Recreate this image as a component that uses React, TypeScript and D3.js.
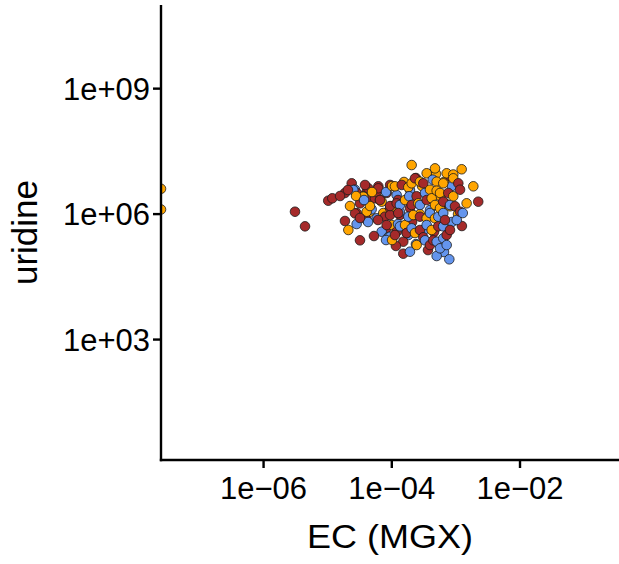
import React from "react";
import * as d3 from "d3";

// ---- data ----
// group codes: R = dark red, O = orange, B = blue
const groupNames = ["R", "O", "B"];
const groupColors = ["#A52A2A", "#FFA500", "#6495ED"];

const ecMGX: number[] = [
  0, 0,
  3.09e-6, 4.43e-6, 1.02e-5, 1.18e-5, 1.86e-5, 2.37e-5, 3.19e-5, 1.86e-5, 2.1e-5,
  2.67e-5, 2.83e-5, 2.83e-5, 2.83e-5, 4.06e-5, 3.6e-5, 4.57e-5, 4.57e-5, 4.85e-5, 4.06e-5,
  5.47e-5, 5.81e-5, 5.81e-5, 6.17e-5, 6.55e-5, 6.95e-5, 7.36e-5, 7.83e-5, 8.32e-5, 8.32e-5,
  6.95e-5, 8.81e-5, 9.4e-5, 9.4e-5, 9.95e-5, 9.95e-5,
  2.51e-5, 4.3e-5, 3.59e-5, 6.15e-5, 3.19e-5, 2.67e-5, 4.06e-5, 1.0e-4, 1.19e-4, 9.4e-5,
  1.34e-4, 8.32e-5, 9.4e-5, 1.19e-4, 1.61e-4, 1.81e-4, 1.51e-4,
  2.07e-5, 2.77e-5, 3.82e-5, 4.91e-5, 6.55e-5, 8.13e-5, 1.01e-4, 1.25e-4, 1.55e-4, 1.92e-4,
  2.38e-4, 2.96e-4, 3.67e-4, 6.52e-4, 8.69e-4, 5.65e-4, 7.0e-4, 3.94e-4, 2.75e-4, 1.92e-4,
  1.34e-4, 9.4e-5, 4.57e-5, 6.1e-5, 4.26e-5, 3.19e-5, 1.25e-4, 2.07e-4, 3.18e-4, 4.55e-4,
  8.69e-4, 1.08e-3, 1.24e-3, 2.38e-4, 1.16e-4, 8.13e-5, 3.67e-4, 6.52e-4, 1.01e-4, 5.27e-5,
  4.9e-4, 8.09e-4, 3.69e-5, 2.23e-5, 1.56e-5,
  1.12e-4, 1.12e-4, 1.19e-4, 1.34e-4, 1.34e-4, 1.43e-4, 1.51e-4, 1.61e-4, 1.61e-4, 1.26e-4,
  1.71e-4, 1.71e-4, 1.81e-4, 1.81e-4, 1.87e-4, 1.92e-4, 2.04e-4, 2.04e-4, 2.04e-4, 2.04e-4,
  2.16e-4, 2.3e-4, 2.3e-4, 2.44e-4, 2.44e-4, 2.59e-4, 2.75e-4, 2.75e-4, 2.75e-4, 2.75e-4,
  3.1e-4, 3.1e-4, 3.3e-4, 3.3e-4, 3.5e-4, 3.5e-4, 3.5e-4, 3.5e-4, 3.94e-4, 3.94e-4,
  3.94e-4, 4.19e-4, 4.19e-4, 4.35e-4, 4.44e-4, 4.72e-4, 4.72e-4, 4.72e-4, 5.01e-4, 5.01e-4,
  5.01e-4, 5.01e-4, 5.31e-4, 5.31e-4, 5.65e-4, 5.65e-4, 5.65e-4, 6.35e-4, 6.35e-4, 6.35e-4,
  6.35e-4, 6.35e-4, 6.76e-4, 7.18e-4, 7.18e-4, 7.18e-4, 7.6e-4, 7.89e-4, 8.09e-4, 8.09e-4,
  8.09e-4, 9.1e-4, 9.1e-4, 9.1e-4, 9.68e-4, 1.03e-3, 1.09e-3, 1.16e-3, 1.16e-3, 1.23e-3,
  1.28e-3, 1.47e-3, 1.87e-3, 2.23e-3,
];

const uridine: number[] = [
  4.03e6, 1.29e6,
  1.14e6, 5.1e5, 2.09e6, 2.39e6, 3.2e6, 5.45e6, 2.36e5, 6.84e5, 4.17e5,
  3.83e6, 3.2e6, 1.06e6, 5.79e5, 3.44e6, 2.67e6, 2.17e6, 1.14e6, 1.3e6, 7.23e5,
  2.39e6, 3.44e6, 7.94e5, 4.62e6, 2.17e6, 1.98e6, 1.06e6, 8.67e5, 3.2e6, 4.57e5,
  3.79e5, 2.79e5, 4.97e6, 1.38e6, 1.54e6, 5.48e5,
  3.77e6, 4.14e6, 2.61e6, 4.14e6, 1.81e6, 1.04e6, 1.14e6, 1.5e6, 2.86e6, 9.5e5,
  9.5e5, 5.48e5, 2.88e5, 3.79e5, 5.0e5, 3.16e5, 2.19e5,
  3.77e6, 2.71e6, 4.97e6, 3.37e6, 2.17e6, 3.37e6, 4.7e6, 2.17e6, 5.86e6, 3.77e6,
  7.29e6, 4.7e6, 3.03e6, 5.86e6, 4.7e6, 2.71e6, 1.75e6, 1.25e6, 1.0e6, 1.4e6,
  1.12e6, 1.56e6, 1.56e6, 7.23e5, 6.47e5, 8.07e5, 5.79e5, 6.47e5, 4.17e5, 3.73e5,
  6.47e5, 1.0e6, 5.19e5, 1.92e5, 1.73e5, 2.4e5, 1.38e5, 1.24e5, 2.4e5, 2.99e5,
  9.1e6, 8.15e6, 2.17e6, 1.56e6, 2.71e6,
  3.16e5, 4.62e6, 1.81e6, 1.65e6, 5.1e5, 4.97e6, 1.13e5, 2.17e6, 5.48e5, 1.06e6,
  3.53e5, 3.53e5, 4.38e6, 8.67e5, 2.67e6, 1.26e5, 1.49e7, 5.45e6, 1.65e6, 4.57e5,
  9.5e5, 7.18e6, 3.53e5, 2.67e6, 1.82e5, 1.81e6, 5.96e6, 1.65e6, 8.67e5, 4.17e5,
  5.45e6, 2.79e5, 3.2e6, 2.36e5, 9.46e6, 2.17e6, 7.94e5, 5.48e5, 3.83e6, 1.06e6,
  1.82e5, 2.39e6, 4.17e5, 6.65e6, 2.36e5, 1.24e7, 1.65e6, 7.94e5, 5.96e6, 3.63e6,
  2.19e5, 9.95e4, 5.1e5, 8.67e5, 3.2e6, 1.38e6, 1.52e5, 5.45e6, 1.98e6, 1.06e6,
  5.1e5, 2.64e5, 7.23e5, 9.46e6, 3.16e5, 1.82e5, 3.2e6, 8.3e4, 1.54e6, 4.17e5,
  1.65e6, 8.85e6, 2.67e6, 7.18e6, 1.54e6, 7.23e5, 5.45e6, 3.83e6, 1.14e6, 1.18e7,
  1.06e6, 1.81e6, 4.62e6, 1.98e6,
];

const group: string[] = [
  "O", "O",
  "R", "R", "R", "R", "R", "R", "R", "R", "O",
  "B", "R", "R", "B", "R", "O", "R", "O", "B", "R",
  "R", "R", "B", "R", "O", "O", "O", "R", "R", "R",
  "B", "B", "R", "R", "O", "O",
  "B", "R", "O", "R", "R", "R", "O", "O", "B", "R",
  "R", "R", "B", "R", "R", "B", "R",
  "R", "O", "R", "O", "R", "B", "O", "R", "O", "B",
  "R", "O", "R", "O", "B", "O", "R", "B", "O", "R",
  "B", "R", "O", "R", "B", "R", "B", "R", "B", "R",
  "B", "O", "R", "B", "R", "B", "R", "B", "O", "R",
  "O", "R", "B", "O", "R",
  "R", "O", "R", "B", "B", "R", "R", "O", "O", "R",
  "B", "R", "O", "B", "B", "B", "O", "O", "R", "B",
  "O", "R", "O", "R", "O", "O", "O", "B", "R", "R",
  "R", "R", "B", "B", "O", "R", "O", "B", "O", "B",
  "R", "O", "O", "B", "R", "O", "O", "O", "O", "O",
  "B", "B", "R", "B", "O", "O", "B", "O", "R", "B",
  "B", "B", "R", "O", "R", "B", "R", "B", "O", "R",
  "B", "O", "O", "O", "R", "B", "R", "R", "R", "O",
  "B", "O", "O", "R",
];

const xTickValues = [1e-6, 1e-4, 1e-2];
const xTickLabels = ["1e\u221206", "1e\u221204", "1e\u221202"];
const yTickValues = [1e3, 1e6, 1e9];
const yTickLabels = ["1e+03", "1e+06", "1e+09"];
const xTitle = "EC (MGX)";
const yTitle = "uridine";

// ---- layout ----
const W = 619;
const H = 564;
const panel = { left: 161, right: 619, top: 5, bottom: 460 };
const xDomain = [Math.pow(10, -7.6), Math.pow(10, -0.456)];
const yDomain = [Math.pow(10, 0.12), Math.pow(10, 11)];
const FONT = "'Liberation Sans', Arial, Helvetica, sans-serif";

export default function App() {
  const x = d3.scaleLog().domain(xDomain).range([panel.left, panel.right]);
  const y = d3.scaleLog().domain(yDomain).range([panel.bottom, panel.top]);
  const color = d3.scaleOrdinal<string, string>().domain(groupNames).range(groupColors);

  const pts = ecMGX.map((v, i) => ({
    cx: v > 0 ? x(v) : panel.left,
    cy: y(uridine[i]),
    fill: color(group[i]),
  }));

  const axisW = 2.4;
  const tickLen = 8;
  const tickFont = 31;

  return (
    <svg
      width={W}
      height={H}
      style={{ position: "absolute", left: 0, top: 0, background: "#fff" }}
      fontFamily={FONT}
    >
      <defs>
        <clipPath id="panel-clip">
          <rect
            x={panel.left}
            y={panel.top}
            width={panel.right - panel.left}
            height={panel.bottom - panel.top}
          />
        </clipPath>
      </defs>
      <rect x={0} y={0} width={W} height={H} fill="#fff" />
      <g clipPath="url(#panel-clip)">
        {pts.map((p, i) => (
          <circle
            key={i}
            cx={p.cx}
            cy={p.cy}
            r={4.8}
            fill={p.fill}
            stroke="#1a1a1a"
            strokeWidth={0.8}
          />
        ))}
      </g>
      {/* axes */}
      <line
        x1={panel.left}
        x2={panel.left}
        y1={panel.top}
        y2={panel.bottom + axisW / 2}
        stroke="#000"
        strokeWidth={axisW}
      />
      <line
        x1={panel.left - axisW / 2}
        x2={panel.right}
        y1={panel.bottom}
        y2={panel.bottom}
        stroke="#000"
        strokeWidth={axisW}
      />
      {yTickValues.map((v, i) => (
        <g key={"y" + i}>
          <line
            x1={panel.left - tickLen}
            x2={panel.left}
            y1={y(v)}
            y2={y(v)}
            stroke="#000"
            strokeWidth={axisW}
          />
          <text
            x={panel.left - tickLen - 3}
            y={y(v)}
            dy="0.36em"
            textAnchor="end"
            fontSize={tickFont}
            textLength={87}
            lengthAdjust="spacingAndGlyphs"
            fill="#000"
          >
            {yTickLabels[i]}
          </text>
        </g>
      ))}
      {xTickValues.map((v, i) => (
        <g key={"x" + i}>
          <line
            x1={x(v)}
            x2={x(v)}
            y1={panel.bottom}
            y2={panel.bottom + tickLen}
            stroke="#000"
            strokeWidth={axisW}
          />
          <text
            x={x(v)}
            y={panel.bottom + 38.5}
            textAnchor="middle"
            fontSize={tickFont}
            textLength={87}
            lengthAdjust="spacingAndGlyphs"
            fill="#000"
          >
            {xTickLabels[i]}
          </text>
        </g>
      ))}
      <text
        x={(panel.left + panel.right) / 2}
        y={548}
        textAnchor="middle"
        fontSize={34}
        textLength={166}
        lengthAdjust="spacingAndGlyphs"
        fill="#000"
      >
        {xTitle}
      </text>
      <text
        transform={`translate(37, ${(panel.top + panel.bottom) / 2}) rotate(-90)`}
        textAnchor="middle"
        fontSize={35}
        fill="#000"
      >
        {yTitle}
      </text>
    </svg>
  );
}
